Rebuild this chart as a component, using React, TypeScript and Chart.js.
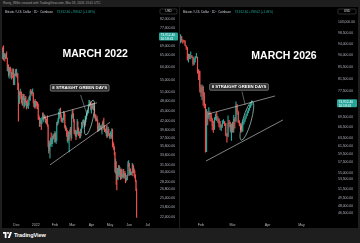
import React, { useEffect, useRef } from "react";
import { Chart, registerables } from "chart.js";

Chart.register(...registerables);

// ---------------- DATA (prices in thousands of USD, daily candles) ----------------
// Left panel: BTC/USD daily, starting 2021-11-08
const leftStartDate = "2021-11-08";
const leftDayCount = 252;
const leftFirstOpenK = 63.3;
const leftCloseK = [
  67.6, 67.0, 64.9, 64.9, 64.2, 64.4, 65.5, 63.6, 60.2, 60.4, 56.9, 58.1, 59.7, 58.7, 56.3, 57.6, 57.2, 58.9, 53.6, 54.8, 57.3, 57.8, 57.0,
  57.2, 56.5, 53.6, 49.2, 49.4, 50.6, 50.6, 50.5, 47.6, 47.1, 49.4, 50.1, 46.7, 48.4, 48.9, 47.6, 46.2, 46.8, 46.7, 46.9, 49.0, 48.6, 50.8, 50.4, 50.8, 50.6, 50.7, 47.5, 46.5, 47.1, 46.3,
  47.7, 47.3, 46.4, 45.8, 43.4, 43.1, 41.6, 41.7, 41.9, 41.8, 42.7, 43.9, 42.6, 43.1, 43.2, 43.1, 42.2, 42.4, 41.7, 40.7, 36.5, 35.1, 36.3, 36.7, 36.9, 36.8, 37.2, 37.7, 38.2, 37.9, 38.5,
  38.7, 37.0, 37.3, 41.6, 41.4, 42.4, 43.8, 44.1, 44.3, 43.6, 42.4, 42.2, 42.1, 42.6, 44.6, 43.9, 40.5, 40.0, 40.1, 38.4, 37.0, 38.2, 37.3, 38.3, 39.2, 39.1, 37.7, 43.2,
  44.4, 43.9, 42.5, 39.1, 39.4, 38.4, 38.0, 38.7, 41.9, 39.4, 38.7, 38.8, 37.8, 39.7, 39.3, 41.1, 40.9, 41.8, 42.2, 41.3, 41.0, 42.4, 42.9, 44.0, 44.3, 44.5, 46.8, 47.1, 47.4, 47.1, 45.5,
  46.3, 45.8, 46.4, 46.6, 45.5, 43.2, 43.4, 42.3, 42.8, 42.2, 39.5, 40.1, 41.1, 39.9, 40.6, 40.4, 39.7, 40.8, 41.5, 41.4, 40.5, 39.7, 39.5, 39.4, 40.4, 38.1, 39.2, 39.7, 38.6, 37.7,
  38.5, 38.5, 37.7, 39.7, 36.5, 36.0, 35.5, 34.0, 30.1, 31.0, 29.0, 28.9, 29.3, 29.8, 31.3, 29.9, 30.4, 28.7, 30.3, 29.2, 29.4, 30.3, 29.1, 29.7, 29.5, 29.2, 28.6, 28.6, 29.4, 31.7, 31.8,
  29.8, 30.4, 29.7, 29.9, 29.9, 31.4, 31.1, 30.2, 30.1, 29.1, 28.4, 26.6, 22.5,
];
const leftHighK = [
  67.8, 68.5, 69.0, 65.6, 65.5, 65.0, 65.5, 66.3, 63.6, 60.8, 60.9, 58.4, 59.9, 60.0, 59.3, 57.9, 57.8, 59.4, 59.2, 55.3, 57.4, 58.9, 59.2,
  59.1, 57.4, 57.6, 53.9, 49.7, 51.0, 51.9, 51.2, 50.8, 50.1, 49.4, 50.2, 50.1, 48.7, 49.5, 49.4, 47.9, 47.4, 48.3, 47.5, 49.3, 49.6, 51.4, 51.8, 51.2, 51.3, 52.0, 50.7, 48.1, 47.9, 48.5,
  47.9, 47.9, 47.6, 47.5, 47.0, 43.7, 43.1, 42.3, 42.8, 42.2, 43.1, 44.3, 44.4, 43.4, 43.8, 43.5, 43.2, 42.6, 42.6, 43.5, 41.1, 36.8, 36.5, 37.0, 37.6, 38.9, 37.5, 38.0, 38.6, 38.3, 38.7,
  39.3, 38.9, 37.4, 41.7, 41.9, 42.7, 44.5, 45.5, 44.8, 45.8, 43.9, 43.0, 42.7, 42.9, 44.8, 44.6, 44.1, 40.9, 40.5, 40.1, 39.5, 38.4, 39.2, 39.0, 39.7, 40.3, 39.9, 43.8,
  44.9, 45.3, 44.1, 42.5, 39.6, 39.6, 39.5, 39.3, 42.5, 41.9, 40.2, 39.3, 39.0, 39.9, 39.9, 41.7, 41.5, 42.3, 42.4, 42.3, 42.0, 43.4, 43.0, 44.3, 45.1, 44.8, 46.9, 48.2, 48.1, 47.7, 47.6,
  46.7, 47.2, 47.0, 46.9, 47.2, 45.5, 43.9, 43.9, 42.8, 43.4, 42.4, 40.7, 41.5, 41.5, 40.8, 40.7, 40.6, 41.1, 41.8, 42.2, 42.9, 40.8, 39.9, 39.9, 40.6, 40.8, 39.4, 40.4, 39.9, 38.8,
  38.7, 39.2, 38.6, 40.0, 39.8, 36.6, 36.1, 35.5, 34.2, 32.7, 32.2, 30.0, 30.8, 30.3, 31.4, 31.3, 31.0, 30.6, 30.5, 30.7, 29.6, 30.5, 30.6, 29.8, 30.2, 29.8, 29.4, 28.8, 29.5, 32.2, 32.4,
  31.9, 30.6, 30.7, 29.9, 30.1, 31.8, 31.6, 31.3, 30.7, 30.3, 29.5, 28.5, 26.9,
];
const leftLowK = [
  63.3, 66.3, 62.8, 64.1, 62.3, 63.4, 63.6, 63.5, 58.6, 58.4, 56.5, 55.7, 57.5, 58.5, 55.7, 55.4, 55.9, 57.0, 53.4, 53.6, 53.3, 56.7, 56.5,
  56.5, 55.9, 51.7, 42.0, 47.7, 47.1, 50.1, 48.6, 47.4, 46.9, 46.5, 48.5, 45.8, 46.3, 46.6, 47.5, 45.5, 45.9, 46.4, 45.6, 46.6, 48.4, 48.1, 50.4, 50.2, 49.6, 50.5, 47.4, 46.1, 46.0, 45.7,
  46.2, 46.7, 45.7, 45.5, 42.5, 42.5, 40.6, 40.5, 41.3, 39.7, 41.3, 42.5, 42.3, 41.8, 42.6, 42.7, 41.6, 41.3, 41.1, 40.6, 35.5, 34.0, 34.6, 32.9, 35.7, 36.2, 35.5, 36.2, 37.4, 37.4, 36.6,
  38.1, 36.6, 36.3, 37.0, 40.9, 41.2, 41.7, 42.7, 43.2, 43.2, 42.0, 41.7, 41.9, 41.6, 42.4, 43.4, 40.1, 39.5, 39.6, 38.0, 36.8, 36.4, 37.0, 34.3, 38.0, 38.6, 37.0, 37.5,
  42.8, 43.4, 41.8, 38.6, 38.6, 38.1, 37.2, 37.9, 38.6, 38.6, 38.2, 38.7, 37.6, 37.6, 38.1, 38.9, 40.5, 40.1, 41.5, 40.9, 40.5, 40.9, 41.8, 42.6, 43.7, 44.1, 44.4, 46.6, 46.9, 46.5, 45.2,
  44.3, 45.7, 45.5, 45.2, 45.4, 43.1, 42.7, 42.1, 42.1, 42.1, 39.2, 39.3, 39.6, 39.6, 39.8, 40.0, 39.6, 38.6, 40.6, 40.9, 39.8, 39.2, 39.3, 38.9, 38.2, 37.7, 37.9, 38.9, 38.2, 37.6,
  37.4, 38.1, 37.5, 37.7, 35.6, 35.3, 34.8, 33.7, 30.0, 29.8, 27.7, 26.7, 28.7, 28.6, 29.5, 29.1, 29.5, 28.6, 28.7, 28.8, 29.0, 29.2, 28.9, 28.8, 29.3, 28.0, 28.3, 28.5, 28.6, 29.3, 31.2,
  29.4, 29.6, 29.5, 29.5, 29.5, 29.9, 29.3, 29.9, 30.0, 28.9, 28.2, 26.6, 22.3,
];
const leftPriceTicks = [
  82000, 77400, 69000, 65000, 60000, 55000, 51000, 48000, 45000, 42000, 39600, 37500, 35600, 33600, 31500, 30000, 28200, 26800, 25400, 23800, 22400,
];
const leftPriceMin = 21770;
const leftPriceMax = 89060;

// Right panel: BTC/USD daily, starting 2026-01-14
const rightStartDate = "2026-01-14";
const rightDayCount = 138;
const rightFirstOpenK = 95.0;
const rightCloseK = [
  97.0, 95.6, 95.5, 95.1, 93.6, 92.6, 88.3, 89.5, 89.4, 89.5, 89.2, 86.6, 88.3, 89.2, 89.2, 84.5, 84.1, 78.6,
  76.9, 78.7, 75.6, 73.0, 62.7, 70.5, 69.3, 70.5, 70.1, 68.8, 67.0, 66.2, 68.8, 69.8, 68.8, 68.8, 67.5, 66.4, 66.9, 68.0, 68.0, 67.6, 64.6, 64.1, 67.9, 67.5, 65.9, 67.0,
  65.7, 68.8, 68.3, 72.6, 70.9, 68.0, 67.3, 66.5, 65.6, 67.6, 68.4, 69.3, 70.1, 70.9, 71.6, 72.5, 73.1, 73.9,
];
const rightHighK = [
  97.9, 97.2, 95.9, 95.6, 95.5, 93.4, 92.8, 90.3, 90.2, 91.1, 89.8, 89.2, 88.9, 89.4, 90.6, 89.2, 84.6, 84.1,
  79.3, 79.4, 79.0, 76.9, 73.3, 71.7, 71.0, 72.2, 71.0, 70.5, 69.1, 68.3, 69.3, 70.4, 70.9, 69.6, 69.0, 68.2, 67.3, 68.4, 68.7, 68.2, 67.6, 64.9, 69.8, 68.5, 68.0, 67.5,
  68.0, 69.9, 69.3, 74.0, 73.2, 71.2, 68.4, 67.6, 66.9, 67.9, 68.8, 69.6, 70.4, 71.3, 72.0, 72.9, 73.5, 74.3,
];
const rightLowK = [
  94.6, 95.0, 94.4, 94.9, 93.4, 92.0, 88.0, 87.3, 88.6, 88.5, 88.9, 86.1, 86.4, 87.3, 88.8, 83.3, 81.1, 77.0,
  75.7, 74.6, 72.9, 72.1, 60.0, 60.1, 67.2, 68.9, 68.3, 68.2, 65.8, 65.1, 65.9, 68.6, 68.4, 67.9, 66.6, 65.9, 65.6, 66.5, 67.6, 67.0, 64.2, 62.5, 63.9, 66.6, 65.2, 63.0,
  65.2, 65.1, 66.3, 68.0, 70.2, 67.8, 66.9, 65.9, 65.2, 65.4, 67.3, 68.1, 69.0, 69.8, 70.6, 71.4, 72.2, 72.9,
];
const rightPriceTicks = [
  103000, 98500, 94000, 90000, 85500, 81500, 77500, 69500, 66500, 63500, 61500, 59500, 57500, 55000, 53500, 51500, 49500, 48000, 46500,
];
const rightPriceMin = 45010;
const rightPriceMax = 109850;

// Current quote shown in legend / price label
const lastPrice = 73912.4;
const lastChangeText = "+798.62 (+1.09%)";
const countdownText = "10:18:41";

const monthShort = ["Jan", "Feb", "Mar", "Apr", "May", "Jun", "Jul", "Aug", "Sep", "Oct", "Nov", "Dec"];

// Annotation anchors in data space: [day index, price]
const leftAnnot = {
  title: { i: 150, p: 65400, text: "MARCH 2022" },
  box: { i: 125, p: 52300, text: "8 STRAIGHT GREEN DAYS" },
  leader: [[126.5, 49900], [137.5, 43500]],
  lines: [
    [[65.7, 42900], [153, 47400]],
    [[77, 31500], [174, 41700]],
  ],
  ellipse: { a: [135.2, 38600], b: [146.5, 47900], minor: 3.6 },
};
const rightAnnot = {
  title: { i: 91.5, p: 89500, text: "MARCH 2026" },
  box: { i: 51.7, p: 78700, text: "8 STRAIGHT GREEN DAYS" },
  leader: [[54.3, 77200], [57.2, 73000]],
  lines: [
    [[24.3, 70300], [83.5, 75800]],
    [[22.5, 57800], [90.6, 68600]],
  ],
  ellipse: { a: [54.0, 63300], b: [63.3, 73800], minor: 4.2 },
};

// ---------------- styles ----------------
const UP = "#26a69a";
const DOWN = "#ef5350";
const AXIS_TEXT = "#b2b5be";
const UI_FONT = '"Liberation Sans", Arial, sans-serif';

function dayLabels(start: string, n: number): string[] {
  const d0 = new Date(start + "T00:00:00Z");
  const out: string[] = [];
  for (let i = 0; i < n; i++) {
    const d = new Date(d0.getTime() + i * 86400000);
    out.push(d.toISOString().slice(0, 10));
  }
  return out;
}

function tickText(iso: string): string {
  const [y, m, d] = iso.split("-").map(Number);
  if (d !== 1) return "";
  return m === 1 ? String(y) : monthShort[m - 1];
}

function buildCandles(firstOpenK: number, closeK: number[], highK: number[], lowK: number[], n: number) {
  const wick: any[] = [];
  const body: any[] = [];
  const colors: string[] = [];
  for (let i = 0; i < n; i++) {
    if (i < closeK.length) {
      const o = (i === 0 ? firstOpenK : closeK[i - 1]) * 1000;
      const c = closeK[i] * 1000;
      wick.push([lowK[i] * 1000, highK[i] * 1000]);
      body.push([o, c]);
      colors.push(c >= o ? UP : DOWN);
    } else {
      wick.push(null);
      body.push(null);
      colors.push(UP);
    }
  }
  return { wick, body, colors };
}

function fmtPrice(v: number): string {
  return v.toLocaleString("en-US", { minimumFractionDigits: 2, maximumFractionDigits: 2 });
}

function makeAnnotPlugin(annot: any) {
  return {
    id: "tvAnnot",
    afterDatasetsDraw(chart: any) {
      const ctx = chart.ctx as CanvasRenderingContext2D;
      const xs = chart.scales.x;
      const ys = chart.scales.y;
      const P = (pt: number[]) => [xs.getPixelForValue(pt[0]), ys.getPixelForValue(pt[1])];
      ctx.save();
      // trend lines
      ctx.strokeStyle = "#d6d8de";
      ctx.lineWidth = 0.6;
      for (const ln of annot.lines) {
        const a = P(ln[0]);
        const b = P(ln[1]);
        ctx.beginPath();
        ctx.moveTo(a[0], a[1]);
        ctx.lineTo(b[0], b[1]);
        ctx.stroke();
      }
      // ellipse
      {
        const a = P(annot.ellipse.a);
        const b = P(annot.ellipse.b);
        const cx = (a[0] + b[0]) / 2;
        const cy = (a[1] + b[1]) / 2;
        const len = Math.hypot(b[0] - a[0], b[1] - a[1]) / 2 + 1;
        const ang = Math.atan2(b[1] - a[1], b[0] - a[0]);
        ctx.strokeStyle = "#a6dccb";
        ctx.lineWidth = 0.7;
        ctx.beginPath();
        ctx.ellipse(cx, cy, len, annot.ellipse.minor, ang, 0, Math.PI * 2);
        ctx.stroke();
      }
      // leader
      {
        const a = P(annot.leader[0]);
        const b = P(annot.leader[1]);
        ctx.strokeStyle = "#b8bbc2";
        ctx.lineWidth = 0.5;
        ctx.beginPath();
        ctx.moveTo(a[0], a[1]);
        ctx.lineTo(b[0], b[1]);
        ctx.stroke();
      }
      // callout box
      {
        const c = P([annot.box.i, annot.box.p]);
        ctx.font = `bold 4.3px ${UI_FONT}`;
        const w = ctx.measureText(annot.box.text).width + 4;
        const h = 6.5;
        ctx.fillStyle = "#2a2a2a";
        ctx.strokeStyle = "#c9c9c9";
        ctx.lineWidth = 0.5;
        ctx.beginPath();
        (ctx as any).roundRect(c[0] - w / 2, c[1] - h / 2, w, h, 1);
        ctx.fill();
        ctx.stroke();
        ctx.fillStyle = "#ffffff";
        ctx.textAlign = "center";
        ctx.textBaseline = "middle";
        ctx.fillText(annot.box.text, c[0], c[1] + 0.2);
      }
      // big title
      {
        const c = P([annot.title.i, annot.title.p]);
        ctx.font = `bold 10.5px ${UI_FONT}`;
        ctx.fillStyle = "#ffffff";
        ctx.textAlign = "center";
        ctx.textBaseline = "middle";
        ctx.fillText(annot.title.text, c[0], c[1]);
      }
      ctx.restore();
    },
    afterDraw(chart: any) {
      const ctx = chart.ctx as CanvasRenderingContext2D;
      const ys = chart.scales.y;
      const area = chart.chartArea;
      ctx.save();
      // USD box
      const bx = area.right + 2;
      const bw = chart.width - area.right - 4;
      ctx.strokeStyle = "#4a4a4a";
      ctx.lineWidth = 0.6;
      ctx.beginPath();
      (ctx as any).roundRect(bx, 2, bw, 5, 1);
      ctx.stroke();
      ctx.fillStyle = "#d1d4dc";
      ctx.font = `3.2px ${UI_FONT}`;
      ctx.textAlign = "center";
      ctx.textBaseline = "middle";
      ctx.fillText("USD", bx + bw / 2, 4.6);
      // current price label
      const py = ys.getPixelForValue(lastPrice);
      ctx.fillStyle = "#26a69a";
      ctx.beginPath();
      (ctx as any).roundRect(area.right + 1, py - 2.8, chart.width - area.right - 2, 8, 1);
      ctx.fill();
      ctx.fillStyle = "#ffffff";
      ctx.font = `3.3px ${UI_FONT}`;
      ctx.textAlign = "left";
      ctx.fillText(fmtPrice(lastPrice), area.right + 2.5, py);
      ctx.fillText(countdownText, area.right + 2.5, py + 3.6);
      ctx.restore();
    },
  };
}

function makeChart(
  canvas: HTMLCanvasElement,
  start: string,
  nDays: number,
  firstOpenK: number,
  closeK: number[],
  highK: number[],
  lowK: number[],
  ticks: number[],
  yMin: number,
  yMax: number,
  axisW: number,
  bodyPct: number,
  annot: any
) {
  const labels = dayLabels(start, nDays);
  const { wick, body, colors } = buildCandles(firstOpenK, closeK, highK, lowK, nDays);
  return new Chart(canvas, {
    type: "bar",
    data: {
      labels,
      datasets: [
        {
          data: body as any,
          backgroundColor: colors,
          borderWidth: 0,
          grouped: false,
          order: 0,
          barPercentage: bodyPct,
          categoryPercentage: 1,
          minBarLength: 0.3,
        } as any,
        {
          data: wick as any,
          backgroundColor: colors,
          borderWidth: 0,
          grouped: false,
          order: 1,
          barThickness: 0.45,
        } as any,
      ],
    },
    options: {
      animation: false,
      responsive: false,
      events: [],
      layout: { padding: 0 },
      plugins: { legend: { display: false }, tooltip: { enabled: false } },
      scales: {
        x: {
          type: "category",
          offset: true,
          grid: { display: false, drawTicks: false },
          border: { display: false },
          ticks: {
            autoSkip: false,
            maxRotation: 0,
            padding: 1.5,
            color: AXIS_TEXT,
            font: { size: 3.6, family: UI_FONT },
            callback: (_v: any, i: number) => tickText(labels[i]),
          },
          afterFit: (s: any) => {
            s.height = 7;
            s.paddingLeft = 0;
            s.paddingRight = 0;
          },
        },
        y: {
          type: "logarithmic",
          position: "right",
          min: yMin,
          max: yMax,
          grid: { display: false, drawTicks: false },
          border: { display: false },
          ticks: {
            autoSkip: false,
            padding: 2,
            crossAlign: "near",
            color: AXIS_TEXT,
            font: { size: 3.4, family: UI_FONT },
            callback: (v: any) => fmtPrice(Number(v)),
          },
          afterBuildTicks: (s: any) => {
            s.ticks = ticks.map((v) => ({ value: v }));
          },
          afterFit: (s: any) => {
            s.width = axisW;
            s.paddingTop = 0;
            s.paddingBottom = 0;
          },
        } as any,
      },
    },
    plugins: [makeAnnotPlugin(annot)],
  } as any);
}

function Legend({ left }: { left: number }) {
  return (
    <div
      style={{
        position: "absolute",
        left,
        top: 3,
        fontFamily: UI_FONT,
        fontSize: 3,
        lineHeight: "4px",
        whiteSpace: "nowrap",
        color: "#d1d4dc",
        pointerEvents: "none",
      }}
    >
      Bitcoin / U.S. Dollar · 1D · Coinbase{"  "}
      <span style={{ color: "#26a69a", marginLeft: 3 }}>
        {fmtPrice(lastPrice)} {lastChangeText}
      </span>
    </div>
  );
}

export default function App() {
  const leftRef = useRef<HTMLCanvasElement>(null);
  const rightRef = useRef<HTMLCanvasElement>(null);

  useEffect(() => {
    const c1 = makeChart(
      leftRef.current!,
      leftStartDate,
      leftDayCount,
      leftFirstOpenK,
      leftCloseK,
      leftHighK,
      leftLowK,
      leftPriceTicks,
      leftPriceMin,
      leftPriceMax,
      21,
      0.9,
      leftAnnot
    );
    const c2 = makeChart(
      rightRef.current!,
      rightStartDate,
      rightDayCount,
      rightFirstOpenK,
      rightCloseK,
      rightHighK,
      rightLowK,
      rightPriceTicks,
      rightPriceMin,
      rightPriceMax,
      22,
      0.75,
      rightAnnot
    );
    return () => {
      c1.destroy();
      c2.destroy();
    };
  }, []);

  return (
    <div
      style={{
        position: "fixed",
        left: 0,
        top: 0,
        width: 360,
        height: 243,
        background: "#1e1e1e",
        overflow: "hidden",
        fontFamily: UI_FONT,
      }}
    >
      <div
        style={{
          position: "absolute",
          left: 3,
          top: 1,
          fontSize: 3.2,
          lineHeight: "5px",
          color: "#a0a0a0",
          whiteSpace: "nowrap",
        }}
      >
        Rusty_Willie created with TradingView.com, Mar 18, 2026 13:41 UTC
      </div>

      <div style={{ position: "absolute", left: 2, top: 7, width: 177, height: 221, background: "#000" }}>
        <canvas ref={leftRef} width={177} height={221} style={{ width: 177, height: 221, display: "block" }} />
        <Legend left={3} />
      </div>

      <div style={{ position: "absolute", left: 180, top: 7, width: 178, height: 221, background: "#000" }}>
        <canvas ref={rightRef} width={178} height={221} style={{ width: 178, height: 221, display: "block" }} />
        <Legend left={3} />
      </div>

      <div
        style={{
          position: "absolute",
          left: 3,
          top: 232,
          display: "flex",
          alignItems: "center",
          gap: 2,
          color: "#ffffff",
        }}
      >
        <svg width={9} height={6} viewBox="0 0 36 24">
          <path d="M0 0h14v24H7V7H0z" fill="#fff" />
          <circle cx="20" cy="4" r="4" fill="#fff" />
          <path d="M28 0h8l-9 24h-8z" fill="#fff" />
        </svg>
        <span style={{ fontSize: 5.6, fontWeight: 600, lineHeight: "6px", letterSpacing: -0.1 }}>TradingView</span>
      </div>
    </div>
  );
}
